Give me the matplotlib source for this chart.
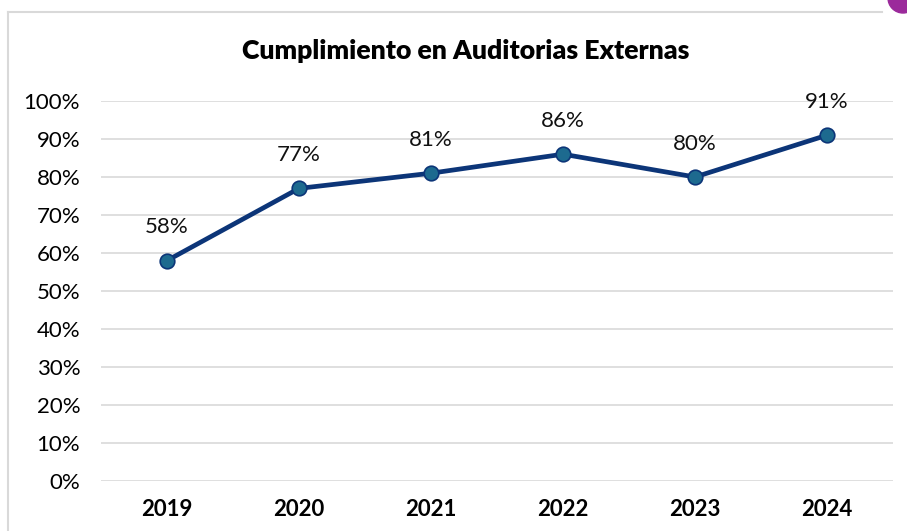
import matplotlib.pyplot as plt
from matplotlib.patches import Circle
from matplotlib.lines import Line2D

# datos del grafico
anios = ['2019', '2020', '2021', '2022', '2023', '2024']
cumplimiento = [58, 77, 81, 86, 80, 91]
etiquetas_y = ['0%', '10%', '20%', '30%', '40%', '50%', '60%', '70%', '80%', '90%', '100%']

plt.rcParams['font.family'] = ['Lato', 'DejaVu Sans']

fig = plt.figure(figsize=(9.07, 5.31), dpi=100)
ax = fig.add_axes([101 / 907, 1 - 481 / 531, 792 / 907, 380 / 531])

x = list(range(len(anios)))
ax.plot(x, cumplimiento, color='#0C3578', linewidth=3.4, marker='o',
        markersize=10.5, markerfacecolor='#1D6A8F', markeredgecolor='#0C3578',
        markeredgewidth=1.2, zorder=3)

for xi, v in zip(x, cumplimiento):
    ax.annotate(f'{v}%', (xi, v), xytext=(0, 24), textcoords='offset points',
                ha='center', va='center', fontsize=16, color='#111111')

ax.set_xlim(-0.5, len(anios) - 0.5)
ax.set_ylim(0, 100)
ax.set_xticks(x)
ax.set_xticklabels(anios, fontsize=16, fontweight='bold')
ax.set_yticks(range(0, 101, 10))
ax.set_yticklabels(etiquetas_y, fontsize=16)
ax.tick_params(length=0)
ax.tick_params(axis='x', pad=13)
ax.tick_params(axis='y', pad=15)
ax.grid(axis='y', color='#D9D9D9', linewidth=1.2)
ax.set_axisbelow(True)
for s in ax.spines.values():
    s.set_visible(False)

fig.text(466 / 907, 1 - 51 / 531, 'Cumplimiento en Auditorias Externas',
         ha='center', va='center', fontsize=19.2, fontweight='heavy')

# marco del grafico
fig.add_artist(Line2D([8 / 907, 8 / 907], [0, 1 - 12 / 531], transform=fig.transFigure,
                      color='#D9D9D9', linewidth=1.5))
fig.add_artist(Line2D([8 / 907, 882 / 907], [1 - 12 / 531, 1 - 12 / 531], transform=fig.transFigure,
                      color='#D9D9D9', linewidth=1.5))
fig.add_artist(Circle((9.03, 5.33), 0.15, transform=fig.dpi_scale_trans,
                      color='#9B2A9B'))

plt.savefig('out.png', dpi=100)
